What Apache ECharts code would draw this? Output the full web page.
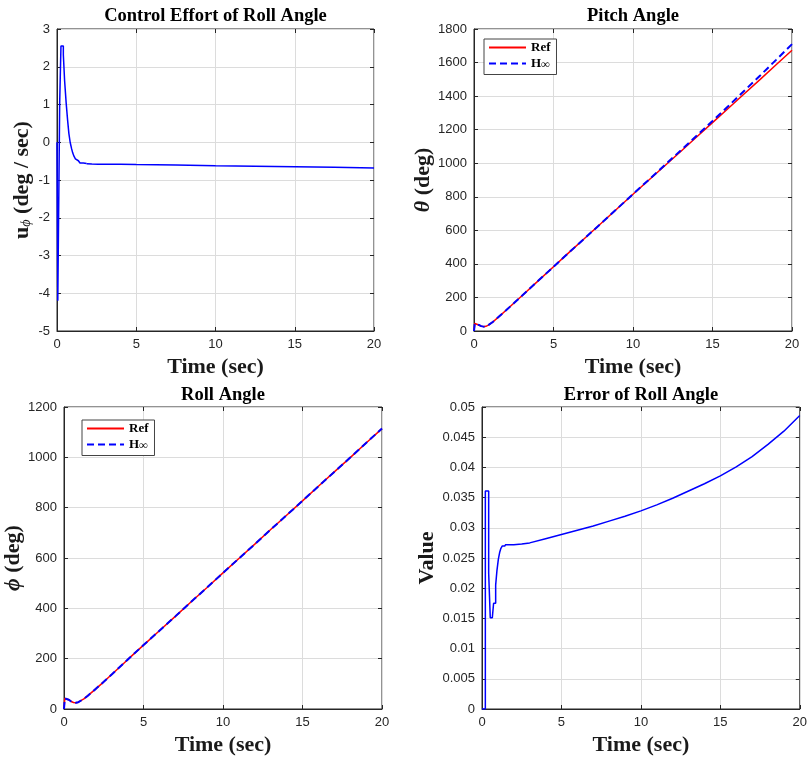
<!DOCTYPE html>
<html lang="en" style="height: 100%">
<head>
<meta charset="utf-8">
<title>Roll / Pitch H-infinity tracking</title>
</head>
<body style="height: 100%; margin: 0; background: #fff">
<div id="container" style="width: 810px; height: 760px"></div>

<script type="text/javascript" src="https://cdn.jsdelivr.net/npm/echarts/dist/echarts.min.js"></script>

<script type="text/javascript">

// ---- data ----

// control effort of roll angle: sampled (zero-order hold) start, then smooth tail
const uStepTime = [0, 0.05, 0.17, 0.25, 0.40, 0.48, 0.58, 0.67, 0.75, 0.83, 0.92, 0.99, 1.07, 1.16, 1.24, 1.35, 1.45, 1.66, 1.87];
const uStepValue = [0, -4.2, 1.05, 2.55, 2.32, 1.63, 1.03, 0.58, 0.23, 0.0, -0.17, -0.28, -0.37, -0.44, -0.49, -0.53, -0.55, -0.565, -0.57];
const uTailTime = [1.87, 2.2, 2.6, 3, 4, 5, 7.5, 10, 12.5, 15, 17.5, 20];
const uTailValue = [-0.57, -0.575, -0.58, -0.58, -0.585, -0.59, -0.60, -0.62, -0.635, -0.65, -0.665, -0.68];

// pitch angle
const pitchTime = [0, 0.05, 0.15, 0.3, 0.45, 0.6, 0.75, 0.9, 1.0, 1.2, 1.5, 2, 2.5, 3, 4, 5, 6, 7, 8, 9, 10, 11, 12, 13, 14, 15, 16, 17, 18, 19, 20];
const pitchRef = [0, 45, 44, 36, 29, 26, 28, 35, 41, 55, 80, 122, 165, 209, 296, 383, 470, 556, 642, 729, 815, 900, 985, 1070, 1156, 1242, 1328, 1414, 1500, 1587, 1673];
const pitchHinf = [0, 45, 44, 36, 29, 26, 28, 35, 41, 55, 80, 122, 165, 209, 296, 383, 470, 556, 642, 729, 816, 902, 989, 1076, 1164, 1252, 1341, 1432, 1523, 1616, 1710];

// roll angle
const rollTime = [0, 0.05, 0.15, 0.3, 0.45, 0.6, 0.75, 0.9, 1.0, 1.25, 1.5, 2, 2.5, 3, 4, 5, 6, 7, 8, 9, 10, 11, 12, 13, 14, 15, 16, 17, 18, 19, 20];
const rollRef = [0, 42, 43, 37, 30, 26, 25, 27, 30, 40, 53, 80, 108, 137, 196, 254, 311, 368, 426, 483, 541, 598, 655, 713, 770, 827, 885, 942, 999, 1057, 1114];
const rollHinf = [0, 42, 43, 37, 30, 26, 25, 27, 30, 40, 53, 80, 108, 137, 196, 254, 311, 368, 426, 483, 541, 598, 655, 713, 770, 827, 885, 942, 999, 1057, 1115];

// error of roll angle: sampled start, then smooth tail
const errStepTime = [0, 0.21, 0.42, 0.52, 0.65, 0.73, 0.86, 0.94, 1.03, 1.11, 1.19, 1.28, 1.45];
const errStepValue = [0, 0.0361, 0.0225, 0.0151, 0.0148, 0.0175, 0.0205, 0.0229, 0.0248, 0.0259, 0.0266, 0.0270, 0.0272];
const errTailTime = [1.45, 1.7, 2, 2.5, 3, 4, 5, 6, 7, 8, 9, 10, 11, 12, 13, 14, 15, 16, 17, 18, 19, 20];
const errTailValue = [0.0272, 0.0272, 0.0272, 0.0273, 0.0275, 0.0282, 0.0289, 0.0296, 0.0303, 0.0311, 0.0319, 0.0328, 0.0338, 0.0349, 0.0361, 0.0373, 0.0386, 0.0401, 0.0418, 0.0438, 0.0460, 0.0486];

const titles = ['Control Effort of Roll Angle', 'Pitch Angle', 'Roll Angle', 'Error of Roll Angle'];
const timeTicks = [0, 20, 5];          // min, max, interval
const yRanges = [[-5, 3, 1], [0, 1800, 200], [0, 1200, 200], [0, 0.05, 0.005]];

function zip(t, v) {
    return t.map(function (x, i) { return [x, v[i]]; });
}

var dom = document.getElementById('container');
var myChart = echarts.init(dom, null, { renderer: 'canvas' });

const SERIF = "'Liberation Serif', 'Times New Roman', serif";
const SANS = "'Liberation Sans', Arial, sans-serif";
const INK = '#262626';

const grids = [
    { left: 57, top: 29, width: 317, height: 302 },
    { left: 474, top: 29, width: 318, height: 302 },
    { left: 64, top: 407, width: 318, height: 302 },
    { left: 482, top: 407, width: 318, height: 302 }
].map(function (g) {
    return Object.assign({ show: true, borderColor: INK, borderWidth: 1, backgroundColor: '#fff' }, g);
});

const yNames = [
    '{b|u}{s|\u03d5}{b| (deg / sec)}',
    '{i|\u03b8}{b| (deg)}',
    '{i|\u03d5}{b| (deg)}',
    '{b|Value}'
];
const yGaps = [24, 32, 36, 41];

const nameRich = {
    b: { fontFamily: SERIF, fontWeight: 'bold', fontSize: 22, color: '#1a1a1a', lineHeight: 22 },
    i: { fontFamily: SERIF, fontWeight: 'bold', fontStyle: 'italic', fontSize: 22, color: '#1a1a1a', lineHeight: 22 },
    s: { fontFamily: SERIF, fontStyle: 'italic', fontSize: 14, color: '#1a1a1a', lineHeight: 6, verticalAlign: 'bottom' }
};

function plain(v) { return String(+v.toFixed(4)); }

const xAxes = [], yAxes = [];
grids.forEach(function (g, i) {
    xAxes.push({
        gridIndex: i, type: 'value', position: 'bottom',
        min: timeTicks[0], max: timeTicks[1], interval: timeTicks[2],
        name: 'Time (sec)', nameLocation: 'middle', nameGap: 25,
        nameTextStyle: { fontFamily: SERIF, fontWeight: 'bold', fontSize: 22, color: '#1a1a1a' },
        axisLine: { show: true, onZero: false, lineStyle: { color: INK, width: 1 } },
        axisTick: { show: true, inside: true, length: 4, lineStyle: { color: INK } },
        axisLabel: { fontFamily: SANS, fontSize: 13, color: INK, margin: 7, formatter: plain },
        splitLine: { show: true, lineStyle: { color: '#dcdcdc', width: 1 } }
    });
    xAxes.push({
        gridIndex: i, type: 'value', position: 'top',
        min: timeTicks[0], max: timeTicks[1], interval: timeTicks[2],
        axisLine: { show: false, onZero: false },
        axisTick: { show: true, inside: true, length: 4, lineStyle: { color: INK } },
        axisLabel: { show: false }, splitLine: { show: false }
    });
    const r = yRanges[i];
    yAxes.push({
        gridIndex: i, type: 'value', position: 'left',
        min: r[0], max: r[1], interval: r[2],
        name: yNames[i], nameLocation: 'middle', nameGap: yGaps[i], nameRotate: 90,
        nameTextStyle: { rich: nameRich },
        axisLine: { show: true, onZero: false, lineStyle: { color: INK, width: 1 } },
        axisTick: { show: true, inside: true, length: 4, lineStyle: { color: INK } },
        axisLabel: { fontFamily: SANS, fontSize: 13, color: INK, margin: 7, formatter: plain },
        splitLine: { show: true, lineStyle: { color: '#dcdcdc', width: 1 } }
    });
    yAxes.push({
        gridIndex: i, type: 'value', position: 'right',
        min: r[0], max: r[1], interval: r[2],
        axisLine: { show: false, onZero: false },
        axisTick: { show: true, inside: true, length: 4, lineStyle: { color: INK } },
        axisLabel: { show: false }, splitLine: { show: false }
    });
});

const titleCenters = [[215.5, 7], [633, 7], [223, 385.5], [641, 385.5]];
const titleOpts = titles.map(function (t, i) {
    return {
        text: t, left: titleCenters[i][0], top: titleCenters[i][1], textAlign: 'center', padding: 0,
        textStyle: { fontFamily: SERIF, fontWeight: 'bold', fontSize: 18.5, color: '#000' }
    };
});

function legendAt(left, top) {
    return {
        left: left, top: top, orient: 'vertical',
        data: ['Ref', 'H\u221e'],
        itemWidth: 37, itemHeight: 14, itemGap: 3,
        padding: [2, 6, 4, 4],
        borderColor: '#444', borderWidth: 1, backgroundColor: '#fff',
        selectedMode: false,
        itemStyle: { opacity: 0 },
        formatter: function (n) { return n === 'Ref' ? '{b|Ref}' : '{b|H}{s|\u221e}'; },
        textStyle: {
            rich: {
                b: { fontFamily: SERIF, fontWeight: 'bold', fontSize: 13, color: '#000', lineHeight: 14 },
                s: { fontFamily: SERIF, fontWeight: 'bold', fontSize: 12, color: '#000', lineHeight: 4, verticalAlign: 'bottom' }
            }
        }
    };
}

const refStyle = { color: '#ff0000', width: 1.5, type: 'solid' };
const hinfStyle = { color: '#0000ff', width: 2, type: [7, 4] };
const blueStyle = { color: '#0000ff', width: 1.5, type: 'solid' };

function lineSeries(name, gi, data, style, step) {
    return {
        name: name, type: 'line', xAxisIndex: 2 * gi, yAxisIndex: 2 * gi,
        data: data, symbol: 'none', showSymbol: false, step: step || false,
        itemStyle: { color: style.color },
        lineStyle: style, animation: false, silent: true
    };
}

option = {
    animation: false,
    backgroundColor: '#fff',
    title: titleOpts,
    grid: grids,
    xAxis: xAxes,
    yAxis: yAxes,
    legend: [legendAt(484, 39), legendAt(82, 420)],
    series: [
        lineSeries('u', 0, zip(uStepTime, uStepValue), blueStyle, 'end'),
        lineSeries('u', 0, zip(uTailTime, uTailValue), blueStyle),
        lineSeries('Ref', 1, zip(pitchTime, pitchRef), refStyle),
        lineSeries('H\u221e', 1, zip(pitchTime, pitchHinf), hinfStyle),
        lineSeries('Ref', 2, zip(rollTime, rollRef), refStyle),
        lineSeries('H\u221e', 2, zip(rollTime, rollHinf), hinfStyle),
        lineSeries('e', 3, zip(errStepTime, errStepValue), blueStyle, 'end'),
        lineSeries('e', 3, zip(errTailTime, errTailValue), blueStyle)
    ]
};

if (option && typeof option === 'object') {
    myChart.setOption(option);
}

window.addEventListener('resize', myChart.resize);
</script>
</body>
</html>
